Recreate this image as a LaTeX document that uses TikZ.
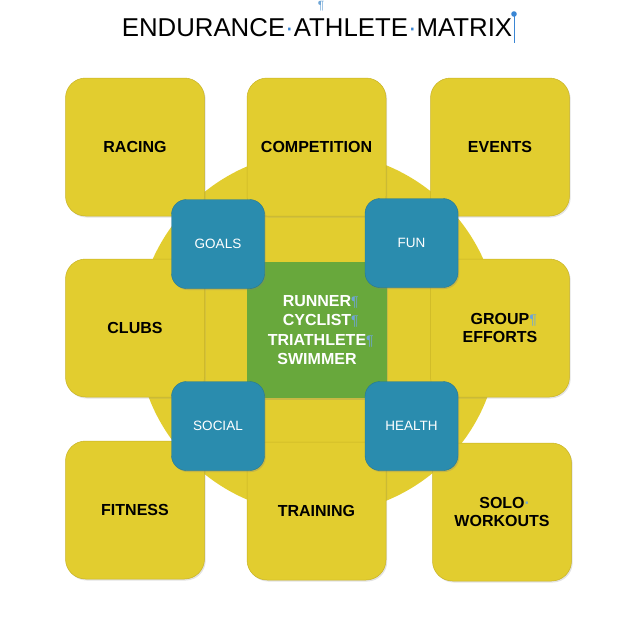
\documentclass[tikz,border=0pt]{standalone}
\usepackage{fontspec}
\setmainfont{Liberation Sans}
\usetikzlibrary{shadows}
\definecolor{boxyellow}{HTML}{E2CD2F}
\definecolor{edgeyellow}{HTML}{C8B326}
\definecolor{boxblue}{HTML}{2A8CAE}
\definecolor{boxgreen}{HTML}{68A83C}
\definecolor{markblue}{HTML}{6FA6D6}
\definecolor{cursorblue}{HTML}{3A86D4}
\newcommand{\pil}{\rlap{\fontsize{14}{14}\selectfont\mdseries\textcolor{markblue}{¶}}}
\newcommand{\mdot}{\textcolor{cursorblue}{·}}
\tikzset{
  ybox/.style={rectangle, rounded corners=20pt, fill=boxyellow, draw=edgeyellow, line width=0.5pt,
    minimum width=139pt, minimum height=138pt, inner sep=0pt, align=center,
    font=\fontsize{16}{18.5}\selectfont\bfseries, text=black,
    drop shadow={shadow xshift=1.2pt, shadow yshift=-1.5pt, opacity=0.22}},
  bbox/.style={rectangle, rounded corners=15pt, fill=boxblue, draw=boxblue!85!black, line width=0.4pt,
    minimum width=93pt, minimum height=89pt, inner sep=0pt, align=center,
    font=\fontsize{13.5}{16}\selectfont, text=white,
    drop shadow={shadow xshift=1.2pt, shadow yshift=-1.5pt, opacity=0.3}},
  gbox/.style={rectangle, fill=boxgreen, minimum width=140pt, minimum height=136pt, inner sep=0pt,
    align=center, font=\fontsize{16}{19.4}\selectfont\bfseries, text=white,
    drop shadow={shadow xshift=1.2pt, shadow yshift=-1.5pt, opacity=0.25}},
  bigdisc/.style={circle, fill=boxyellow, minimum size=362pt, inner sep=0pt}
}
\begin{document}
\begin{tikzpicture}[x=1pt,y=-1pt]
\useasboundingbox (0,0) rectangle (640,630);
\node[font=\fontsize{25.8}{30}\selectfont] (title) at (317,28) {ENDURANCE\mdot ATHLETE\mdot MATRIX};
\node[font=\fontsize{12}{12}\selectfont, text=markblue] (toppil) at (321,6) {¶};
\coordinate (curtop) at (514,14);
\coordinate (curbot) at (514,43);
\draw[cursorblue, line width=1pt] (curtop) -- (curbot);
\fill[cursorblue] (curtop) circle (2.8pt);

\node[bigdisc] (disc) at (318,333) {};

\node[ybox] (racing) at (135,147) {RACING};
\node[ybox] (competition) at (316.5,147) {COMPETITION};
\node[ybox] (events) at (500,147) {EVENTS};
\node[ybox] (clubs) at (135,328) {CLUBS};
\node[ybox] (group) at (500,328) {GROUP\pil\\EFFORTS};
\node[ybox] (fitness) at (135,510) {FITNESS};
\node[ybox] (training) at (316.5,511) {TRAINING};
\node[ybox] (solo) at (502,512) {SOLO\rlap{\textcolor{markblue}{·}}\\WORKOUTS};

\node[gbox] (center) at (317,330) {RUNNER\pil\\CYCLIST\pil\\TRIATHLETE\pil\\SWIMMER};

\node[bbox] (goals) at (218,244) {GOALS};
\node[bbox] (fun) at (411.5,243) {FUN};
\node[bbox] (social) at (218,426) {SOCIAL};
\node[bbox] (health) at (411.5,426) {HEALTH};
\end{tikzpicture}
\end{document}
